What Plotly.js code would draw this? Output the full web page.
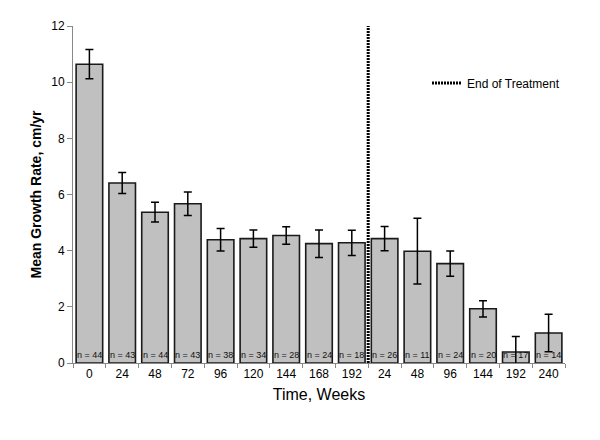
<!DOCTYPE html>
<html>
<head>
<meta charset="utf-8">
<script src="https://cdn.plot.ly/plotly-3.0.1.min.js"></script>
<style>html,body{margin:0;padding:0;background:#fff;}#chart{width:600px;height:440px;}</style>
</head>
<body>
<div id="chart"></div>
<script>
const weekLabels = ["0","24","48","72","96","120","144","168","192","24","48","96","144","192","240"];
const meanGrowth = [10.64, 6.41, 5.37, 5.67, 4.39, 4.43, 4.54, 4.25, 4.28, 4.43, 3.98, 3.54, 1.93, 0.39, 1.07];
const errorSize = [0.52, 0.37, 0.35, 0.42, 0.40, 0.31, 0.31, 0.49, 0.45, 0.43, 1.17, 0.45, 0.29, 0.55, 0.67];
const nCounts = [44, 43, 44, 43, 38, 34, 28, 24, 18, 26, 11, 24, 20, 17, 14];
const treatmentEnd = 8.5;
const treatmentLine = [0, 12.1];

const idx = weekLabels.map((_, i) => i);

const bars = {
  type: 'bar',
  x: idx,
  y: meanGrowth,
  width: 0.81,
  marker: {color: '#c0c0c0', line: {color: '#1a1a1a', width: 1.6}},
  error_y: {type: 'data', array: errorSize, visible: true, color: '#000', thickness: 1.5, width: 4},
  showlegend: false,
  hoverinfo: 'skip'
};

const endLine = {
  type: 'scatter',
  mode: 'lines',
  x: [treatmentEnd, treatmentEnd],
  y: treatmentLine,
  line: {color: '#000', width: 3, dash: '2px,1px'},
  name: 'End of Treatment',
  cliponaxis: false,
  showlegend: true
};

const annotations = nCounts.map((n, i) => ({
  x: i, y: 0, xref: 'x', yref: 'y',
  text: 'n = ' + n,
  showarrow: false,
  yanchor: 'bottom', yshift: 1,
  font: {family: 'Liberation Sans, Arial, sans-serif', size: 9, color: '#111'}
}));

const layout = {
  width: 600, height: 440,
  margin: {l: 73, r: 35, t: 26, b: 77},
  paper_bgcolor: '#fff', plot_bgcolor: '#fff',
  font: {family: 'Liberation Sans, Arial, sans-serif', color: '#000'},
  showlegend: true,
  legend: {x: 0.7195, y: 0.831, xanchor: 'left', yanchor: 'middle', bgcolor: 'rgba(0,0,0,0)',
           font: {size: 12}, itemwidth: 30},
  xaxis: {
    type: 'linear', range: [-0.5, 14.5],
    tickmode: 'array', tickvals: idx, ticktext: weekLabels,
    ticks: '', tickfont: {size: 12},
    showline: true, linecolor: '#888', linewidth: 1,
    showgrid: false, zeroline: false,
    minor: {tick0: -0.5, dtick: 1, ticks: 'outside', ticklen: 4, tickcolor: '#888', showgrid: false},
    title: {text: 'Time, Weeks', font: {size: 16}, standoff: 8}
  },
  yaxis: {
    range: [0, 12], dtick: 2,
    ticks: 'outside', ticklen: 5, tickcolor: '#888',
    tickfont: {size: 12},
    showline: true, linecolor: '#888', linewidth: 1,
    showgrid: false, zeroline: false,
    title: {text: '<b>Mean Growth Rate, cm/yr</b>', font: {size: 14}, standoff: 6}
  },
  annotations: annotations
};

Plotly.newPlot('chart', [bars, endLine], layout, {displayModeBar: false, staticPlot: true});
</script>
</body>
</html>
